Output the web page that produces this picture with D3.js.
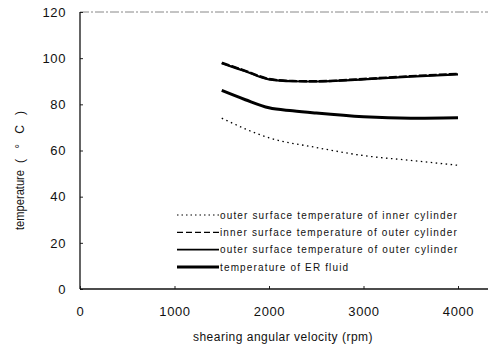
<!DOCTYPE html>
<html>
<head>
<meta charset="utf-8">
<script src="https://cdn.jsdelivr.net/npm/d3@7"></script>
<style>
  body { margin: 0; background: #fff; }
  text { font-family: "Liberation Sans", Arial, sans-serif; fill: #111; }
</style>
</head>
<body>
<svg id="chart" width="491" height="349"></svg>
<script>
// data
var speedTop = [1500, 1750, 2000, 2250, 2500, 3000, 3500, 4000];
var outerCylInner = [98, 94.5, 91, 90.1, 90, 91, 92.2, 93.2];   // dashed
var outerCylOuter = [97.8, 94.3, 90.8, 90, 89.9, 90.8, 92, 93]; // thin solid
var speedMid = [1500, 1750, 2000, 2250, 2500, 3000, 3500, 4000];
var erFluid = [86, 82, 78.5, 77.2, 76.2, 74.6, 74, 74.2];
var speedLow = [1500, 2000, 2500, 3000, 3500, 4000];
var innerCylOuter = [74, 65.5, 61.3, 57.8, 55.7, 53.6];

var xTicks = [0, 1000, 2000, 3000, 4000];
var yTicks = [0, 20, 40, 60, 80, 100, 120];

var legendLabels = [
    "outer surface temperature of inner cylinder",
    "inner surface temperature of outer cylinder",
    "outer surface temperature of outer cylinder",
    "temperature of ER fluid"
];

var svg = d3.select("#chart");

var x = d3.scaleLinear().domain([0, 4000]).range([80, 458]);
var y = d3.scaleLinear().domain([0, 120]).range([289, 12]);

// frame: top line (faint), left axis, bottom axis
svg.append("line")
    .attr("x1", 80).attr("x2", 488)
    .attr("y1", y(120)).attr("y2", y(120))
    .attr("stroke", "#888").attr("stroke-width", 1)
    .attr("stroke-dasharray", "9,2,2,2");

var yAxis = d3.axisLeft(y).tickValues(yTicks).tickSize(-3).tickPadding(14);
var gy = svg.append("g").attr("transform", "translate(80,0)").call(yAxis);
gy.select(".domain").remove();
gy.selectAll("line").attr("stroke", "#222");
gy.selectAll("text")
    .style("font-size", "13px")
    .style("letter-spacing", "0.6px")
    .attr("fill", "#222");

svg.append("line")
    .attr("x1", 80).attr("x2", 80)
    .attr("y1", y(120)).attr("y2", y(0))
    .attr("stroke", "#111").attr("stroke-width", 1.3);

var xAxis = d3.axisBottom(x).tickValues(xTicks).tickSize(-3).tickPadding(18).tickFormat(d3.format("d"));
var gx = svg.append("g").attr("transform", "translate(0," + y(0) + ")").call(xAxis);
gx.select(".domain").remove();
gx.selectAll("line").attr("stroke", "#222");
gx.selectAll("text")
    .style("font-size", "13px")
    .style("letter-spacing", "0.6px")
    .attr("fill", "#222");

svg.append("line")
    .attr("x1", 80).attr("x2", 488)
    .attr("y1", y(0)).attr("y2", y(0))
    .attr("stroke", "#111").attr("stroke-width", 1.3);

// axis titles
svg.append("text")
    .attr("x", 283).attr("y", 341)
    .attr("text-anchor", "middle")
    .style("font-size", "12px")
    .style("letter-spacing", "0.5px")
    .text("shearing angular velocity (rpm)");

svg.append("text")
    .attr("transform", "translate(24,230) rotate(-90)")
    .attr("textLength", 60)
    .attr("lengthAdjust", "spacingAndGlyphs")
    .style("font-size", "12px")
    .text("temperature");

svg.append("text")
    .attr("transform", "translate(24,163) rotate(-90)")
    .attr("textLength", 52)
    .attr("lengthAdjust", "spacing")
    .style("font-size", "12px")
    .text("( \u00b0 C )");

// curves
var line = d3.line().curve(d3.curveMonotoneX);

function draw(xs, ys, width, dash) {
    var pts = xs.map(function (v, i) { return [x(v), y(ys[i])]; });
    svg.append("path")
        .attr("d", line(pts))
        .attr("fill", "none")
        .attr("stroke", "#000")
        .attr("stroke-width", width)
        .attr("stroke-dasharray", dash);
}

draw(speedTop, outerCylOuter, 2.2, null);
draw(speedTop, outerCylInner, 2.4, "8,2");
draw(speedMid, erFluid, 3, null);
draw(speedLow, innerCylOuter, 1.3, "1.5,3.5");

// legend
var legendStyles = [
    {w: 1.2, dash: "1.5,3"},
    {w: 1.2, dash: "6,3"},
    {w: 1.8, dash: null},
    {w: 3, dash: null}
];
var legY = d3.scalePoint().domain(d3.range(4)).range([215, 267]);

legendLabels.forEach(function (lab, i) {
    svg.append("line")
        .attr("x1", 177).attr("x2", 219)
        .attr("y1", legY(i)).attr("y2", legY(i))
        .attr("stroke", "#000")
        .attr("stroke-width", legendStyles[i].w)
        .attr("stroke-dasharray", legendStyles[i].dash);
    svg.append("text")
        .attr("x", 220).attr("y", legY(i) + 3.5)
        .style("font-size", "10px")
        .style("letter-spacing", "1.15px")
        .text(lab);
});
</script>
</body>
</html>
